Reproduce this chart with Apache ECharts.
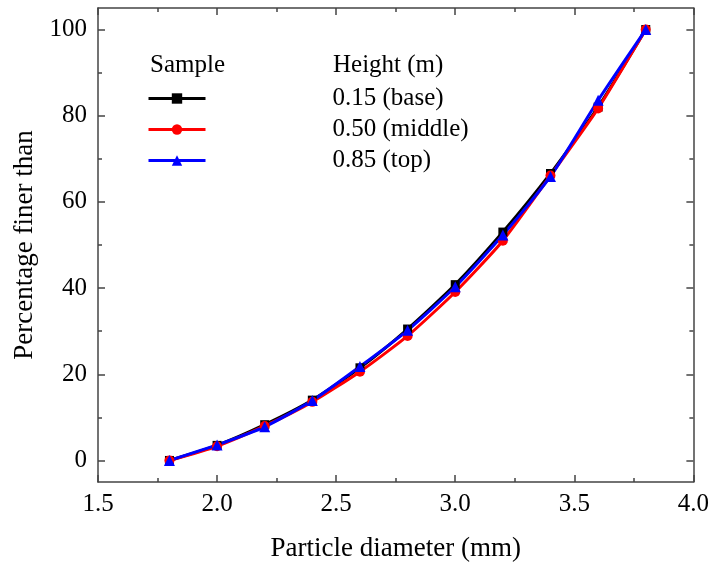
<!DOCTYPE html>
<html>
<head>
<meta charset="utf-8">
<script src="https://cdn.jsdelivr.net/npm/echarts@6/dist/echarts.min.js"></script>
<style>html,body{margin:0;padding:0;background:#fff}#c{width:712px;height:569px}</style>
</head>
<body>
<div id="c"></div>
<script>
const diameters = [1.8, 2.0, 2.2, 2.4, 2.6, 2.8, 3.0, 3.2, 3.4, 3.6, 3.8];
const base   = [0, 3.5, 8.3, 14.0, 21.5, 30.5, 40.8, 53.0, 66.6, 82.0, 100];
const middle = [0, 3.3, 8.0, 13.6, 20.6, 28.9, 39.1, 51.0, 66.1, 81.7, 100];
const top_   = [0, 3.6, 7.8, 13.9, 21.8, 30.2, 40.3, 52.3, 65.9, 83.6, 100];
const seriesNames = ['0.15 (base)', '0.50 (middle)', '0.85 (top)'];
const yMajor = [0, 20, 40, 60, 80, 100];
const yMinor = [10, 30, 50, 70, 90];

const font = 'Liberation Serif';
const axisColor = '#444';
function pairs(ys){ return diameters.map((x,i)=>[x, ys[i]]); }

const chart = echarts.init(document.getElementById('c'));
const yBase = {type:'value', min:-5, max:105, splitLine:{show:false}};
chart.setOption({
  animation:false,
  grid:{left:98, right:15, top:8, bottom:87},
  legend:{
    orient:'vertical', left:142, top:81, itemWidth:57, itemHeight:13, itemGap:6,
    data:seriesNames,
    lineStyle:{width:3},
    textStyle:{fontFamily:font, fontSize:25, color:'#000', padding:[0,0,0,122]}
  },
  graphic:[
    {type:'text', left:150, top:53, style:{text:'Sample', fontFamily:font, fontSize:25, fill:'#000'}},
    {type:'text', left:333, top:53, style:{text:'Height (m)', fontFamily:font, fontSize:25, fill:'#000'}}
  ],
  xAxis:[
    {type:'value', min:1.5, max:4.0, interval:0.5, position:'bottom',
     name:'Particle diameter (mm)', nameLocation:'middle', nameGap:53,
     nameTextStyle:{fontFamily:font, fontSize:27, color:'#000'},
     axisLine:{onZero:false, lineStyle:{color:axisColor, width:1.5}},
     axisTick:{inside:true, length:7, lineStyle:{color:axisColor, width:1.5}},
     minorTick:{show:true, splitNumber:2, length:4, lineStyle:{color:axisColor, width:1.5}},
     axisLabel:{fontFamily:font, fontSize:25, color:'#000', margin:10, formatter:v=>v.toFixed(1)},
     splitLine:{show:false}, minorSplitLine:{show:false}},
    {type:'value', min:1.5, max:4.0, interval:0.5, position:'top',
     axisLine:{onZero:false, lineStyle:{color:axisColor, width:1.5}},
     axisTick:{inside:true, length:7, lineStyle:{color:axisColor, width:1.5}},
     minorTick:{show:true, splitNumber:2, length:4, lineStyle:{color:axisColor, width:1.5}},
     axisLabel:{show:false}, splitLine:{show:false}}
  ],
  yAxis:[
    Object.assign({}, yBase, {position:'left',
     name:'Percentage finer than', nameLocation:'middle', nameGap:56,
     nameTextStyle:{fontFamily:font, fontSize:27, color:'#000'},
     axisLine:{show:true, onZero:false, lineStyle:{color:axisColor, width:1.5}},
     axisTick:{show:true, inside:true, length:7, customValues:yMajor, lineStyle:{color:axisColor, width:1.5}},
     axisLabel:{fontFamily:font, fontSize:25, color:'#000', margin:11, customValues:yMajor}}),
    Object.assign({}, yBase, {position:'right',
     axisLine:{show:true, onZero:false, lineStyle:{color:axisColor, width:1.5}},
     axisTick:{show:true, inside:true, length:7, customValues:yMajor, lineStyle:{color:axisColor, width:1.5}},
     axisLabel:{show:false}}),
    Object.assign({}, yBase, {position:'left',
     axisLine:{show:false},
     axisTick:{show:true, inside:true, length:4, customValues:yMinor, lineStyle:{color:axisColor, width:1.5}},
     axisLabel:{show:false}}),
    Object.assign({}, yBase, {position:'right',
     axisLine:{show:false},
     axisTick:{show:true, inside:true, length:4, customValues:yMinor, lineStyle:{color:axisColor, width:1.5}},
     axisLabel:{show:false}})
  ],
  series:[
    {name:seriesNames[0], type:'line', data:pairs(base), smooth:0.2, symbol:'rect', symbolSize:9,
     itemStyle:{color:'#000'}, lineStyle:{color:'#000', width:3}},
    {name:seriesNames[1], type:'line', data:pairs(middle), smooth:0.2, symbol:'circle', symbolSize:10,
     itemStyle:{color:'#ff0000'}, lineStyle:{color:'#ff0000', width:3}},
    {name:seriesNames[2], type:'line', data:pairs(top_), smooth:0.2, symbol:'triangle', symbolSize:11,
     itemStyle:{color:'#0000ff'}, lineStyle:{color:'#0000ff', width:3}}
  ]
});
</script>
</body>
</html>
